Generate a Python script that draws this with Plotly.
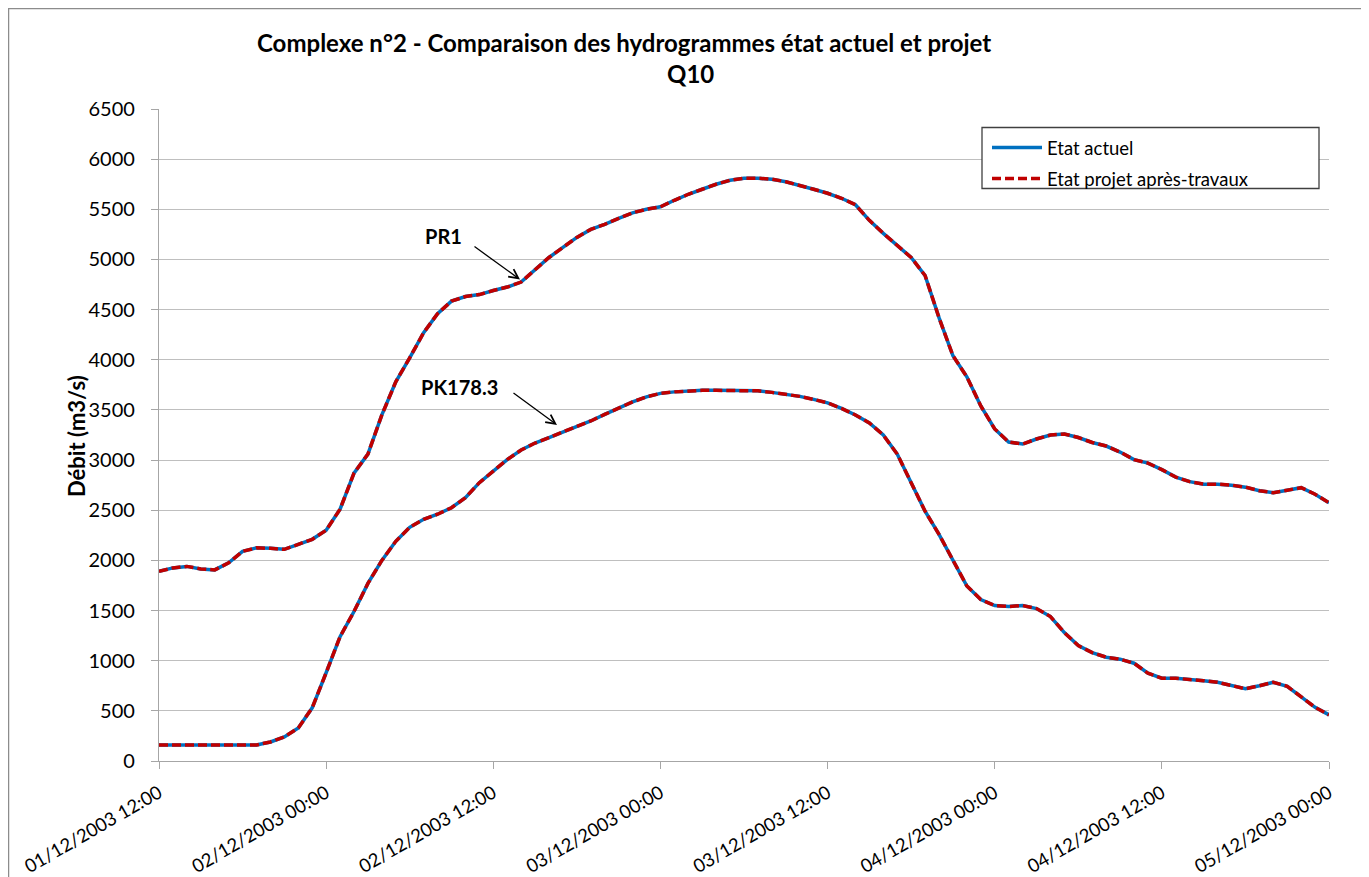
import pandas as pd
import plotly.graph_objects as go

# ---------------- data ----------------
start = "2003-12-01 12:00"
n_hours = 85
times = pd.date_range(start=start, periods=n_hours, freq="h")

pr1_actuel = [1890, 1925, 1940, 1915, 1905, 1975, 2090, 2125, 2120, 2110,
              2160, 2210, 2300, 2510, 2870, 3060, 3450, 3780, 4020, 4270,
              4460, 4585, 4630, 4650, 4690, 4725, 4775, 4900, 5020, 5120,
              5220, 5300, 5350, 5410, 5465, 5500, 5525, 5590, 5650, 5700,
              5750, 5790, 5810, 5810, 5800, 5775, 5740, 5700, 5660, 5610,
              5545, 5390, 5260, 5140, 5020, 4840, 4420, 4040, 3830, 3540,
              3310, 3180, 3160, 3210, 3250, 3260, 3225, 3175, 3140, 3080,
              3005, 2970, 2905, 2830, 2785, 2760, 2760, 2750, 2730, 2695,
              2675, 2700, 2725, 2660, 2575]
pr1_projet = list(pr1_actuel)

pk_actuel = [160, 160, 160, 160, 160, 160, 160, 160, 190, 240,
             330, 530, 880, 1240, 1490, 1770, 2000, 2190, 2330, 2410,
             2460, 2525, 2625, 2775, 2890, 3005, 3100, 3170, 3225, 3280,
             3330, 3390, 3455, 3520, 3580, 3630, 3665, 3680, 3690, 3695,
             3695, 3695, 3695, 3690, 3675, 3655, 3635, 3605, 3570, 3515,
             3450, 3370, 3250, 3060, 2775, 2490, 2260, 1995, 1745, 1610,
             1550, 1540, 1550, 1520, 1440, 1280, 1150, 1080, 1035, 1015,
             975, 875, 825, 825, 815, 800, 785, 750, 720, 750,
             785, 745, 645, 535, 460]
pk_projet = list(pk_actuel)

tick_times = pd.date_range(start=start, end="2003-12-05 00:00", freq="12h")
tick_labels = [t.strftime("%d/%m/%Y %H:%M") for t in tick_times]

series_names = ["Etat actuel", "Etat projet après-travaux"]
title_line1 = "Complexe n°2 - Comparaison des hydrogrammes état actuel et projet"
title_line2 = "Q10"
y_title = "Débit (m3/s)"
station_labels = ["PR1", "PK178.3"]

# ---------------- figure ----------------
OFF = 8                      # page body margin of the exported html
W, H = 1369 - OFF, 877 - OFF
L, R, T, B = 159 - OFF, 1329 - OFF, 109 - OFF, 761 - OFF
FONT = "Lato, Carlito, Calibri, 'DejaVu Sans', sans-serif"
BLUE = "#0070C0"
RED = "#C00000"


def px(x):  # screen x -> paper
    return (x - OFF - L) / (R - L)


def py(y):  # screen y -> paper
    return (B - (y - OFF)) / (B - T)


fig = go.Figure()
for vals, show in [(pr1_actuel, True), (pk_actuel, False)]:
    fig.add_trace(go.Scatter(x=times, y=vals, mode="lines", name=series_names[0],
                             legendgroup="a", showlegend=show,
                             line=dict(color=BLUE, width=3.5)))
for vals, show in [(pr1_projet, True), (pk_projet, False)]:
    fig.add_trace(go.Scatter(x=times, y=vals, mode="lines", name=series_names[1],
                             legendgroup="b", showlegend=show,
                             line=dict(color=RED, width=3.5, dash="9px,4px")))

grid = "#BFBFBF"
axis = "#A6A6A6"
fig.update_layout(
    width=W, height=H, autosize=False,
    margin=dict(l=L, r=W - R, t=T, b=H - B, pad=0, autoexpand=False),
    paper_bgcolor="white", plot_bgcolor="white",
    font=dict(family=FONT, color="#000000"),
    showlegend=True,
    legend=dict(x=px(987), y=py(129), xanchor="left", yanchor="top",
                bgcolor="rgba(0,0,0,0)", borderwidth=0,
                font=dict(size=18.5, family=FONT), itemwidth=50,
                traceorder="grouped", tracegroupgap=4),
    xaxis=dict(type="date", range=[times[0], times[-1]], automargin=False,
               tickmode="array", tickvals=tick_times, ticktext=tick_labels,
               tickangle=-30, tickfont=dict(size=18.5, family=FONT),
               ticks="outside", ticklen=7, tickcolor=axis, tickwidth=1.3,
               showgrid=False, showline=True, linecolor=axis, linewidth=1.3,
               zeroline=False, ticklabelstandoff=6),
    yaxis=dict(range=[0, 6500], dtick=500, tick0=0, automargin=False,
               tickfont=dict(size=20, family=FONT),
               ticks="outside", ticklen=7, tickcolor=axis, tickwidth=1.3,
               showgrid=True, gridcolor=grid, gridwidth=1.3,
               showline=True, linecolor=axis, linewidth=1.3,
               zeroline=False, ticklabelstandoff=12),
)

# outer chart frame
fig.add_shape(type="rect", xref="paper", yref="paper",
              x0=px(8.5), x1=px(1364), y0=py(900), y1=py(8.5),
              line=dict(color="#8C8C8C", width=1.5), layer="below")
# legend box
fig.add_shape(type="rect", xref="paper", yref="paper",
              x0=px(982), x1=px(1319), y0=py(188.5), y1=py(127.5),
              line=dict(color="#404040", width=1.3), fillcolor="white", layer="above")

# titles
fig.add_annotation(text="<b>%s</b>" % title_line1, xref="paper", yref="paper",
                   x=px(624), y=py(43), xanchor="center", yanchor="middle",
                   showarrow=False, font=dict(size=24, family=FONT))
fig.add_annotation(text="<b>%s</b>" % title_line2, xref="paper", yref="paper",
                   x=px(690), y=py(73), xanchor="center", yanchor="middle",
                   showarrow=False, font=dict(size=24, family=FONT))
fig.add_annotation(text="<b>%s</b>" % y_title, xref="paper", yref="paper",
                   x=px(76), y=py(436), xanchor="center", yanchor="middle",
                   textangle=-90, showarrow=False, font=dict(size=22, family=FONT))

# station labels and arrows
fig.add_annotation(text="<b>%s</b>" % station_labels[0], xref="paper", yref="paper",
                   x=px(443), y=py(236), xanchor="center", yanchor="middle",
                   showarrow=False, font=dict(size=20, family=FONT))
fig.add_annotation(text="<b>%s</b>" % station_labels[1], xref="paper", yref="paper",
                   x=px(459), y=py(387), xanchor="center", yanchor="middle",
                   showarrow=False, font=dict(size=20, family=FONT))
fig.add_annotation(text="", xref="paper", yref="paper", x=px(520), y=py(279.5),
                   ax=-47, ay=-34, showarrow=True, arrowhead=5, arrowsize=1.4,
                   arrowwidth=1.3, arrowcolor="black", standoff=0, startstandoff=0)
fig.add_annotation(text="", xref="paper", yref="paper", x=px(557), y=py(425),
                   ax=-45, ay=-33, showarrow=True, arrowhead=5, arrowsize=1.4,
                   arrowwidth=1.3, arrowcolor="black", standoff=0, startstandoff=0)

fig.write_html("out.html")
